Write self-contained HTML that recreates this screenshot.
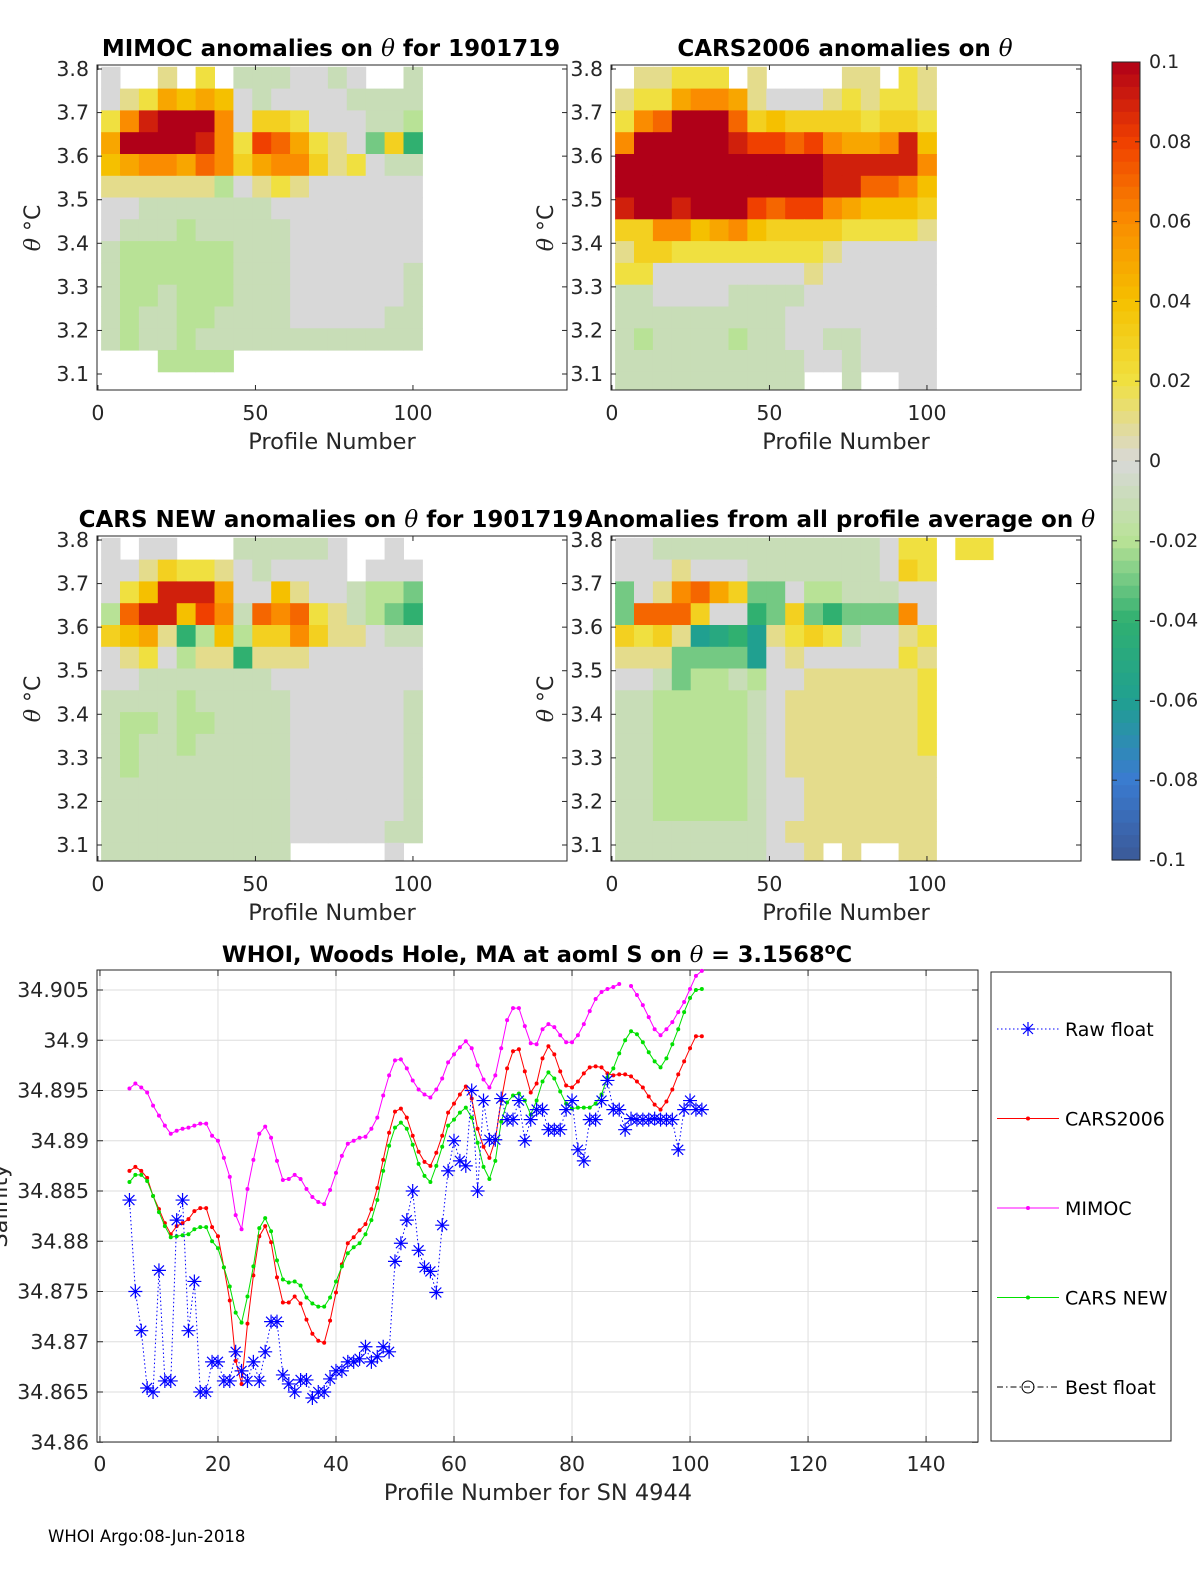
<!DOCTYPE html>
<html><head><meta charset="utf-8">
<style>
body{margin:0;background:#fff;}
svg{display:block;font-family:"DejaVu Sans","Liberation Sans",sans-serif;}
</style></head>
<body>
<svg id="fig" width="1200" height="1575" viewBox="0 0 1200 1575" xmlns="http://www.w3.org/2000/svg"></svg>
<script>
// ---------- heatmap data (hundredths of anomaly; null = no data). Columns = 6-profile bins starting at profile 1; rows = 0.05 degC theta bins from 3.805 downward
const N = null;
const mimocRows = [
 [0,N,N,1,N,2,N,-1,-1,-1,0,0,-1,0,N,N,-1],
 [0,1,2,5,4,5,4,0,-1,0,0,0,0,-1,-1,-1,-1],
 [2,6,9,10,10,10,6,0,3,3,2,0,0,0,-1,-1,-2],
 [5,10,10,10,10,9,6,2,8,7,5,2,1,0,-3,3,-4],
 [4,5,6,6,5,7,6,3,5,6,6,3,1,2,0,-1,-1],
 [1,1,1,1,1,1,-2,0,1,2,1,0,0,0,0,0,0],
 [0,0,-1,-1,-1,-1,-1,-1,-1,0,0,0,0,0,0,0,0],
 [0,-1,-1,-1,-2,-1,-1,-1,-1,-1,0,0,0,0,0,0,0],
 [-1,-2,-2,-2,-2,-2,-2,-1,-1,-1,0,0,0,0,0,0,0],
 [-1,-2,-2,-2,-2,-2,-2,-1,-1,-1,0,0,0,0,0,0,-1],
 [-1,-2,-2,-1,-2,-2,-2,-1,-1,-1,0,0,0,0,0,0,-1],
 [-1,-2,-1,-1,-2,-2,-1,-1,-1,-1,0,0,0,0,0,-1,-1],
 [-1,-2,-1,-1,-2,-1,-1,-1,-1,-1,-1,-1,-1,-1,-1,-1,-1],
 [N,N,N,-2,-2,-2,-2,N,N,N,N,N,N,N,N,N,N],
 [N,N,N,N,N,N,N,N,N,N,N,N,N,N,N,N,N]
];
const cars2006Rows = [
 [N,1,1,2,2,2,N,1,N,N,N,N,1,1,N,2,1],
 [1,2,2,5,6,6,5,1,0,0,0,1,2,1,2,2,1],
 [2,6,7,10,10,10,7,3,4,3,3,3,3,2,3,3,2],
 [6,10,10,10,10,10,9,8,8,7,8,6,5,5,6,9,4],
 [10,10,10,10,10,10,10,10,10,10,10,9,9,9,9,9,6],
 [10,10,10,10,10,10,10,10,10,10,10,9,9,7,7,6,4],
 [9,10,10,9,10,10,10,8,7,8,8,6,5,4,4,4,3],
 [3,3,6,6,4,5,6,4,3,3,3,3,2,2,2,2,1],
 [1,3,3,2,2,2,2,2,2,2,2,1,0,0,0,0,0],
 [2,2,0,0,0,0,0,0,0,0,1,0,0,0,0,0,0],
 [-1,-1,0,0,0,0,-1,-1,-1,-1,0,0,0,0,0,0,0],
 [-1,-1,-1,-1,-1,-1,-1,-1,-1,0,0,0,0,0,0,0,0],
 [-1,-2,-1,-1,-1,-1,-2,-1,-1,0,0,-1,-1,0,0,0,0],
 [-1,-1,-1,-1,-1,-1,-1,-1,-1,-1,0,0,-1,0,0,0,0],
 [-1,-1,-1,-1,-1,-1,-1,-1,-1,-1,N,N,-1,N,N,0,0]
];
const carsNewRows = [
 [0,N,0,0,N,N,N,-1,-1,-1,-1,-1,0,N,N,0,N],
 [0,0,1,3,2,2,1,0,-1,0,0,0,0,N,0,0,0],
 [0,2,4,9,9,9,5,0,0,4,1,0,0,-1,-2,-2,-3],
 [-2,7,9,9,4,8,6,-1,7,6,7,2,1,-1,-2,-3,-4],
 [3,4,5,1,-4,-2,4,-2,3,3,6,3,1,1,0,-1,-1],
 [0,1,2,0,-2,1,1,-4,1,1,1,0,0,0,0,0,0],
 [0,0,-1,-1,-1,-1,-1,-1,-1,0,0,0,0,0,0,0,0],
 [-1,-1,-1,-1,-2,-1,-1,-1,-1,-1,0,0,0,0,0,0,-1],
 [-1,-2,-2,-1,-2,-2,-1,-1,-1,-1,0,0,0,0,0,0,-1],
 [-1,-2,-1,-1,-2,-1,-1,-1,-1,-1,0,0,0,0,0,0,-1],
 [-1,-2,-1,-1,-1,-1,-1,-1,-1,-1,0,0,0,0,0,0,-1],
 [-1,-1,-1,-1,-1,-1,-1,-1,-1,-1,0,0,0,0,0,0,-1],
 [-1,-1,-1,-1,-1,-1,-1,-1,-1,-1,0,0,0,0,0,0,-1],
 [-1,-1,-1,-1,-1,-1,-1,-1,-1,-1,0,0,0,0,0,-1,-1],
 [-1,-1,-1,-1,-1,-1,-1,-1,-1,-1,N,N,N,N,N,0,N]
];
const allAvgRows = [
 [0,0,-1,-1,-1,-1,-1,-1,-1,-1,-1,-1,-1,-1,0,2,2,N,2,2],
 [0,0,0,1,0,0,0,-1,-1,-1,-1,-1,-1,-1,0,3,2],
 [-3,0,1,6,7,5,3,-3,-3,0,-2,-2,-1,-1,-1,0,0],
 [-3,7,7,7,3,0,0,-4,-3,3,-3,-4,-3,-3,-3,6,0],
 [3,2,3,1,-6,-5,-4,-6,1,2,3,2,-1,0,0,1,2],
 [1,1,1,-3,-3,-3,-3,-6,0,1,0,0,0,0,0,2,1],
 [0,0,-1,-3,-2,-2,-1,-2,0,0,1,1,1,1,1,1,2],
 [-1,-1,-2,-2,-2,-2,-2,-1,0,1,1,1,1,1,1,1,2],
 [-1,-1,-2,-2,-2,-2,-2,-1,0,1,1,1,1,1,1,1,2],
 [-1,-1,-2,-2,-2,-2,-2,-1,0,1,1,1,1,1,1,1,2],
 [-1,-1,-2,-2,-2,-2,-2,-1,0,1,1,1,1,1,1,1,1],
 [-1,-1,-2,-2,-2,-2,-2,-1,0,0,1,1,1,1,1,1,1],
 [-1,-1,-2,-2,-2,-2,-2,-1,0,0,1,1,1,1,1,1,1],
 [-1,-1,-1,-1,-1,-1,-1,-1,0,1,1,1,1,1,1,1,1],
 [-1,-1,-1,-1,-1,-1,-1,-1,0,0,1,N,1,N,N,1,1]
];
const thetaTicks = [3.8,3.7,3.6,3.5,3.4,3.3,3.2,3.1];
const panelXTicks = [0,50,100];
const cbTicks = [0.1,0.08,0.06,0.04,0.02,0,-0.02,-0.04,-0.06,-0.08,-0.1];
const cbLabels = ["0.1","0.08","0.06","0.04","0.02","0","-0.02","-0.04","-0.06","-0.08","-0.1"];

// ---------- line chart data (profile 5 .. 102)
const firstProfile = 5;
const rawFloat = [34.8841,34.8750,34.8711,34.8654,34.8650,34.8771,34.8661,34.8661,34.8821,34.8841,34.8711,34.8760,34.8650,34.8650,34.8680,34.8680,34.8661,34.8661,34.8690,34.8671,34.8661,34.8680,34.8661,34.8690,34.8720,34.8720,34.8667,34.8658,34.8650,34.8662,34.8662,34.8644,34.8650,34.8650,34.8663,34.8671,34.8671,34.8680,34.8680,34.8683,34.8695,34.8680,34.8685,34.8695,34.8690,34.8780,34.8798,34.8821,34.8850,34.8791,34.8774,34.8770,34.8749,34.8816,34.8870,34.8900,34.8880,34.8875,34.8950,34.8850,34.8940,34.8901,34.8901,34.8942,34.8921,34.8921,34.8940,34.8900,34.8921,34.8931,34.8931,34.8911,34.8911,34.8911,34.8931,34.8940,34.8891,34.8880,34.8921,34.8921,34.8940,34.8960,34.8931,34.8931,34.8911,34.8922,34.8921,34.8921,34.8921,34.8922,34.8921,34.8921,34.8921,34.8891,34.8931,34.8940,34.8931,34.8931];
const cars2006 = [34.8870,34.8874,34.8870,34.8863,34.8845,34.8832,34.8818,34.8807,34.8815,34.8818,34.8822,34.8830,34.8833,34.8833,34.8814,34.8805,34.8774,34.8741,34.8681,34.8658,34.8718,34.8766,34.8805,34.8815,34.8799,34.8764,34.8739,34.8739,34.8745,34.8738,34.8722,34.8708,34.8701,34.8699,34.8721,34.8749,34.8777,34.8798,34.8804,34.8811,34.8817,34.8832,34.8853,34.8881,34.8908,34.8929,34.8932,34.8923,34.8905,34.8889,34.8879,34.8875,34.8888,34.8905,34.8928,34.8937,34.8946,34.8954,34.8942,34.8912,34.8894,34.8883,34.8901,34.8940,34.8972,34.8989,34.8991,34.8969,34.8948,34.8957,34.8982,34.8994,34.8986,34.8969,34.8955,34.8953,34.8959,34.8967,34.8973,34.8974,34.8973,34.8967,34.8965,34.8966,34.8966,34.8964,34.8959,34.8953,34.8944,34.8936,34.8931,34.8939,34.8951,34.8966,34.8979,34.8992,34.9004,34.9004];
const mimoc = [34.8952,34.8957,34.8953,34.8948,34.8935,34.8925,34.8915,34.8907,34.8910,34.8912,34.8913,34.8915,34.8917,34.8917,34.8905,34.8900,34.8883,34.8864,34.8826,34.8812,34.8852,34.8881,34.8907,34.8914,34.8903,34.8880,34.8861,34.8862,34.8866,34.8862,34.8852,34.8844,34.8839,34.8837,34.8851,34.8868,34.8885,34.8897,34.8900,34.8903,34.8904,34.8912,34.8923,34.8945,34.8965,34.8980,34.8981,34.8972,34.8960,34.8951,34.8946,34.8943,34.8951,34.8962,34.8978,34.8986,34.8993,34.8999,34.8992,34.8975,34.8961,34.8953,34.8965,34.8992,34.9020,34.9032,34.9032,34.9014,34.8997,34.8996,34.9011,34.9016,34.9013,34.9005,34.8998,34.8998,34.9005,34.9016,34.9029,34.9041,34.9048,34.9051,34.9053,34.9056,null,34.9054,34.9045,34.9035,34.9023,34.9011,34.9005,34.9011,34.9018,34.9028,34.9038,34.9051,34.9064,34.9069];
const carsNew = [34.8859,34.8866,34.8866,34.8860,34.8845,34.8829,34.8815,34.8804,34.8805,34.8806,34.8807,34.8812,34.8814,34.8814,34.8800,34.8793,34.8774,34.8755,34.8729,34.8719,34.8745,34.8775,34.8813,34.8823,34.8810,34.8781,34.8762,34.8759,34.8760,34.8756,34.8744,34.8738,34.8735,34.8735,34.8744,34.8760,34.8775,34.8788,34.8794,34.8798,34.8807,34.8821,34.8841,34.8870,34.8895,34.8913,34.8918,34.8912,34.8896,34.8877,34.8865,34.8859,34.8875,34.8894,34.8915,34.8921,34.8928,34.8933,34.8923,34.8898,34.8874,34.8862,34.8880,34.8919,34.8938,34.8945,34.8947,34.8940,34.8926,34.8940,34.8959,34.8968,34.8962,34.8949,34.8937,34.8932,34.8933,34.8933,34.8933,34.8937,34.8946,34.8963,34.8972,34.8987,34.9000,34.9009,34.9006,34.8998,34.8988,34.8979,34.8973,34.8982,34.8996,34.9011,34.9028,34.9042,34.9050,34.9051];
const xTicks = [0,20,40,60,80,100,120,140];
const yTicks = [34.86,34.865,34.87,34.875,34.88,34.885,34.89,34.895,34.9,34.905];
const yTickLabels = ["34.86","34.865","34.87","34.875","34.88","34.885","34.89","34.895","34.9","34.905"];
const legendLabels = ["Raw float","CARS2006","MIMOC","CARS NEW","Best float"];

// ---------- helpers
const NS = "http://www.w3.org/2000/svg";
const svg = document.getElementById('fig');
const SERIF = '"DejaVu Serif","Liberation Serif",serif';
function mk(tag, attrs, parent, text){
  const e = document.createElementNS(NS, tag);
  for (const k in attrs) e.setAttribute(k, attrs[k]);
  if (text !== undefined) e.textContent = text;
  (parent || svg).appendChild(e);
  return e;
}
const stops = [[-10,[59,89,152]],[-8,[58,123,208]],[-6,[32,160,144]],[-4,[48,176,112]],[-2,[184,226,150]],[0,[216,216,216]],[2,[240,224,64]],[4,[245,192,0]],[6,[250,140,0]],[8,[240,64,0]],[10,[176,0,24]]];
function cmap(v){
  v = Math.max(-10, Math.min(10, v));
  for (let i=0;i<stops.length-1;i++){
    const a=stops[i], b=stops[i+1];
    if (v>=a[0] && v<=b[0]){
      const t=(v-a[0])/(b[0]-a[0]);
      const c=a[1].map((x,j)=>Math.round(x+(b[1][j]-x)*t));
      return 'rgb('+c.join(',')+')';
    }
  }
  return '#d8d8d8';
}

// ---------- heatmap panels
function panel(name, left, top, rows, title, titleX, ylabX){
  const w=470, h=325, xmin=-0.3, xmax=148.9, ymin=3.0633, ymax=3.8092;
  const g = mk('g', {}, svg);
  
  
  const X = p => left + (p-xmin)/(xmax-xmin)*w;
  const Y = t => top + (ymax-t)/(ymax-ymin)*h;
  const cells = mk('g', {}, g);
  
  
  rows.forEach((row, r) => {
    const tTop = 3.805 - 0.05*r, tBot = tTop - 0.05;
    row.forEach((v, c) => {
      if (v === null || v === undefined) return;
      const p0 = 1 + 6*c, p1 = p0 + 6;
      const y0 = Math.max(top, Y(tTop)), y1 = Math.min(top+h, Y(tBot));
      const rc = mk('rect', {x:X(p0).toFixed(1), y:y0.toFixed(1), width:(X(p1)-X(p0)+0.5).toFixed(1), height:(y1-y0+0.5).toFixed(1), fill:cmap(v)}, cells);
      
      
    });
  });
  const box = mk('rect', {x:left, y:top, width:w, height:h, fill:'none', stroke:'#262626', 'stroke-width':1}, g);
  
  
  thetaTicks.forEach(t => {
    const y = Y(t);
    mk('line', {x1:left, x2:left+5, y1:y, y2:y, stroke:'#262626'}, g);
    mk('line', {x1:left+w, x2:left+w-5, y1:y, y2:y, stroke:'#262626'}, g);
    const tl = mk('text', {x:left-8, y:y+7, 'text-anchor':'end', 'font-size':20.5, fill:'#262626'}, g, t.toFixed(1));
    
    
  });
  panelXTicks.forEach(p => {
    const x = X(p);
    mk('line', {x1:x, x2:x, y1:top+h, y2:top+h-5, stroke:'#262626'}, g);
    mk('line', {x1:x, x2:x, y1:top, y2:top+5, stroke:'#262626'}, g);
    const tl = mk('text', {x:x, y:top+h+30, 'text-anchor':'middle', 'font-size':20.5, fill:'#262626'}, g, String(p));
    
    
  });
  const xl = mk('text', {x:left+235, y:top+h+59, 'text-anchor':'middle', 'font-size':22.5, fill:'#262626'}, g, 'Profile Number');
  
  
  const yl = mk('text', {transform:'translate('+ylabX+','+(top+163)+') rotate(-90)', 'text-anchor':'middle', 'font-size':22, fill:'#262626'}, g);
  
  
  mk('tspan', {'font-family':SERIF, 'font-style':'italic'}, yl, 'θ');
  mk('tspan', {}, yl, ' °C');
  const tt = mk('text', {x:titleX, y:top-9, 'text-anchor':'middle', 'font-size':23, 'font-weight':'bold', fill:'#000'}, g);
  
  
  mk('tspan', {}, tt, title[0]);
  mk('tspan', {'font-family':SERIF, 'font-style':'italic', 'font-weight':'normal'}, tt, 'θ');
  mk('tspan', {}, tt, title[1]);
}
panel('mimoc-panel', 97, 65, mimocRows, ['MIMOC anomalies on ', '  for 1901719'], 331, 40);
panel('cars2006-panel', 611, 65, cars2006Rows, ['CARS2006 anomalies on ', ''], 845, 553);
panel('cars-new-panel', 97, 536, carsNewRows, ['CARS NEW anomalies on ', ' for 1901719'], 331, 40);
panel('all-average-panel', 611, 536, allAvgRows, ['Anomalies from all profile average on ', ''], 840, 553);

// ---------- colorbar
(function(){
  const g = mk('g', {}, svg);
  
  
  const x0=1112, w=28, top=62, bot=860;
  const Yc = v => top + (0.1 - v)/0.2*(bot-top);
  const nb = 64;
  for (let i=0;i<nb;i++){
    const v1 = 0.1 - i*0.2/nb, v2 = v1 - 0.2/nb;
    mk('rect', {x:x0, y:Yc(v1), width:w, height:Yc(v2)-Yc(v1)+0.6, fill:cmap((v1+v2)/2*100)}, g);
  }
  mk('rect', {x:x0, y:top, width:w, height:bot-top, fill:'none', stroke:'#262626'}, g);
  cbTicks.forEach((v,i) => {
    const y = Yc(v);
    mk('line', {x1:x0+w, x2:x0+w-5, y1:y, y2:y, stroke:'#262626'}, g);
    mk('line', {x1:x0, x2:x0+5, y1:y, y2:y, stroke:'#262626'}, g);
    const t = mk('text', {x:1149, y:y+6, 'font-size':19, fill:'#262626'}, g, cbLabels[i]);
    
    
  });
})();

// ---------- line chart
(function(){
  const L=97, R=978, T=970, B=1442, xmin=-0.5, xmax=148.8, ymin=34.86;
  const X = p => L + (p-xmin)/(xmax-xmin)*(R-L);
  const Y = v => 1442.25 - (v-ymin)*10050;
  const g = mk('g', {}, svg);
  
  
  mk('rect', {x:L, y:T, width:R-L, height:B-T, fill:'#fff'}, g);
  xTicks.forEach(p => {
    const x = X(p);
    mk('line', {x1:x, x2:x, y1:T, y2:B, stroke:'#dedede'}, g);
    mk('line', {x1:x, x2:x, y1:B, y2:B-6, stroke:'#262626'}, g);
    mk('line', {x1:x, x2:x, y1:T, y2:T+6, stroke:'#262626'}, g);
    const t = mk('text', {x:x, y:B+29, 'text-anchor':'middle', 'font-size':20.5, fill:'#262626'}, g, String(p));
    
    
  });
  yTicks.forEach((v,i) => {
    const y = Y(v);
    mk('line', {x1:L, x2:R, y1:y, y2:y, stroke:'#dedede'}, g);
    mk('line', {x1:L, x2:L+6, y1:y, y2:y, stroke:'#262626'}, g);
    mk('line', {x1:R, x2:R-6, y1:y, y2:y, stroke:'#262626'}, g);
    const t = mk('text', {x:L-8, y:y+7, 'text-anchor':'end', 'font-size':20.5, fill:'#262626'}, g, yTickLabels[i]);
    
    
  });
  mk('rect', {x:L, y:T, width:R-L, height:B-T, fill:'none', stroke:'#262626'}, g);

  function series(name, vals, color, dashed){
    const sg = mk('g', {}, g);
    
    
    let d = '', pen = false;
    vals.forEach((v,i) => {
      if (v === null){ pen = false; return; }
      d += (pen ? 'L' : 'M') + X(firstProfile+i).toFixed(1) + ' ' + Y(v).toFixed(1);
      pen = true;
    });
    const pl = mk('path', {d:d, fill:'none', stroke:color, 'stroke-width':1, 'stroke-dasharray':dashed ? '1.5 2.5' : 'none'}, sg);
    
    
    vals.forEach((v,i) => {
      if (v === null) return;
      const cx = X(firstProfile+i), cy = Y(v);
      if (dashed){
        const s = mk('path', {d:'M'+(cx-7)+' '+cy+'h14M'+cx+' '+(cy-7)+'v14M'+(cx-5)+' '+(cy-5)+'l10 10M'+(cx-5)+' '+(cy+5)+'l10 -10', stroke:color, 'stroke-width':1.2, fill:'none'}, sg);
        
        
      } else {
        const c = mk('circle', {cx:cx, cy:cy, r:2, fill:color}, sg);
        
        
      }
    });
  }
  series('mimoc-series', mimoc, '#ff00ff', false);
  series('cars2006-series', cars2006, '#ff0000', false);
  series('cars-new-series', carsNew, '#00e000', false);
  series('raw-float-series', rawFloat, '#0000ff', true);

  const tt = mk('text', {x:537, y:962, 'text-anchor':'middle', 'font-size':22.5, 'font-weight':'bold'}, svg);
  
  
  mk('tspan', {}, tt, 'WHOI, Woods Hole, MA at aoml S on ');
  mk('tspan', {'font-family':SERIF, 'font-style':'italic', 'font-weight':'normal'}, tt, 'θ');
  mk('tspan', {}, tt, ' = 3.1568');
  mk('tspan', {dy:-8, 'font-size':16}, tt, 'o');
  mk('tspan', {dy:8}, tt, 'C');

  const xl = mk('text', {x:538, y:1500, 'text-anchor':'middle', 'font-size':22.5, fill:'#262626'}, svg, 'Profile Number for SN 4944');
  
  
  const yl = mk('text', {transform:'translate(7,1206) rotate(-90)', 'text-anchor':'middle', 'font-size':22.5, fill:'#262626'}, svg, 'Salinity');
  
  

  // legend
  const lg = mk('g', {}, svg);
  
  
  mk('rect', {x:991, y:972, width:180, height:469, fill:'#fff', stroke:'#262626'}, lg);
  const lcol = ['#0000ff','#ff0000','#ff00ff','#00e000','#000'];
  legendLabels.forEach((lab,i) => {
    const y = 1029 + i*89.5;
    const eg = mk('g', {}, lg);
    
    
    const dash = i===0 ? '1.5 2.5' : (i===4 ? '6 3 1.5 3' : 'none');
    mk('line', {x1:997, x2:1059, y1:y, y2:y, stroke:lcol[i], 'stroke-dasharray':dash}, eg);
    const cx = 1028;
    if (i===0) mk('path', {d:'M'+(cx-7)+' '+y+'h14M'+cx+' '+(y-7)+'v14M'+(cx-5)+' '+(y-5)+'l10 10M'+(cx-5)+' '+(y+5)+'l10 -10', stroke:'#0000ff', 'stroke-width':1.2}, eg);
    else if (i===4) mk('circle', {cx:cx, cy:y, r:6, fill:'none', stroke:'#000'}, eg);
    else mk('circle', {cx:cx, cy:y, r:2, fill:lcol[i]}, eg);
    mk('text', {x:1065, y:y+7, 'font-size':19, fill:'#000'}, eg, lab);
  });
})();

const foot = mk('text', {x:48, y:1542, 'font-size':16.5, fill:'#000'}, svg, 'WHOI Argo:08-Jun-2018');


</script>
</body></html>
